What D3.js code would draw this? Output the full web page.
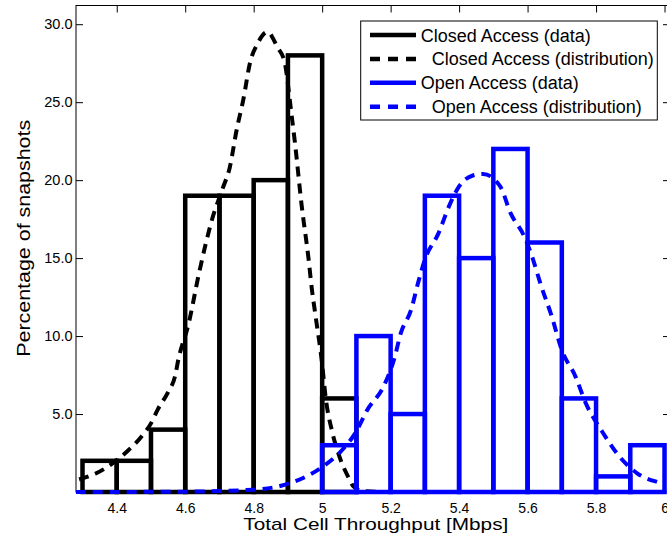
<!DOCTYPE html>
<html>
<head>
<meta charset="utf-8">
<script src="https://cdn.jsdelivr.net/npm/d3@7/dist/d3.min.js"></script>
<style>
  html, body { margin: 0; padding: 0; background: #fff; }
  svg { display: block; }
  text { font-family: "Liberation Sans", Arial, Helvetica, sans-serif; fill: #000; }
</style>
</head>
<body>
<svg id="chart" width="667" height="540"></svg>
<script>
// Histogram bins (lower edge, width 0.1 Mbps) and percentage of snapshots per bin
const binWidth = 0.1;
const closedBinStart = [4.3, 4.4, 4.5, 4.6, 4.7, 4.8, 4.9, 5.0];
const closedPct      = [2,   2,   4,   19,  19,  20,  28,  6];
const openBinStart   = [5.0, 5.1, 5.2, 5.3, 5.4, 5.5, 5.6, 5.7, 5.8, 5.9];
const openPct        = [3,   10,  5,   19,  15,  22,  16,  6,   1,   3];

// Fitted distribution curves (throughput, percentage)
const closedFitX = [4.29, 4.34, 4.43, 4.47, 4.50, 4.52, 4.55, 4.57, 4.58, 4.61, 4.64, 4.68, 4.71, 4.73, 4.75, 4.77, 4.79, 4.81, 4.84, 4.87, 4.89, 4.91, 4.92, 4.94, 4.96, 4.97, 4.98, 5.00, 5.01, 5.03, 5.05, 5.08, 5.09, 5.12, 5.20, 6.00];
const closedFitY = [0.8,  1.2,  2.6,  3.5,  4.4,  5.3,  6.4,  7.4,  8.5,  10.8, 14.0, 17.6, 19.5, 20.8, 23.2, 25.2, 27.6, 28.7, 29.5, 28.5, 27.6, 24.3, 22.5, 18.4, 15.0, 13.0, 11.4, 8.2,  6.1,  3.8,  2.3,  0.8,  0.4,  0.05, 0.0,  0.0];
const openFitX = [4.28, 4.60, 4.80, 4.88, 5.00, 5.05, 5.10, 5.13, 5.18, 5.21, 5.23, 5.26, 5.28, 5.30, 5.34, 5.37, 5.40, 5.44, 5.47, 5.52, 5.55, 5.59, 5.61, 5.64, 5.67, 5.70, 5.74, 5.77, 5.82, 5.86, 5.92, 5.985, 6.00];
const openFitY = [0.0,  0.02, 0.15, 0.4,  1.6,  2.5,  3.9,  5.2,  6.8,  8.5,  10.2, 11.7, 13.4, 14.9, 16.6, 18.3, 19.6, 20.3, 20.4, 19.6, 17.9, 16.4, 15.3, 13.2, 11.3, 9.1,  7.4,  5.7,  3.8,  2.5,  1.2,  0.6,   0.5];

// Axis ticks
const xTicks = [4.4, 4.6, 4.8, 5.0, 5.2, 5.4, 5.6, 5.8, 6.0];
const yTicks = [5, 10, 15, 20, 25, 30];

// Legend entries
const legendItems = [
  { label: "Closed Access (data)",          color: "#000000", dashed: false },
  { label: "Closed Access (distribution)",  color: "#000000", dashed: true  },
  { label: "Open Access (data)",            color: "#0000ff", dashed: false },
  { label: "Open Access (distribution)",    color: "#0000ff", dashed: true  }
];

const svg = d3.select("#chart");
const plot = { left: 76, right: 670, top: 5.5, bottom: 492 };

const x = d3.scaleLinear().domain([4.281, 6.016]).range([plot.left, plot.right]);
const y = d3.scaleLinear().domain([0, 31.2]).range([plot.bottom, plot.top]);

svg.append("defs").append("clipPath").attr("id", "plotClip")
  .append("rect")
  .attr("x", plot.left).attr("y", plot.top - 3)
  .attr("width", plot.right - plot.left).attr("height", plot.bottom - plot.top + 6);

// Axes box
svg.append("rect")
  .attr("x", plot.left).attr("y", plot.top)
  .attr("width", plot.right - plot.left).attr("height", plot.bottom - plot.top)
  .attr("fill", "none").attr("stroke", "#000").attr("stroke-width", 1);

const tickLen = 7;
function styleAxis(g) {
  g.select(".domain").remove();
  g.selectAll(".tick line").attr("stroke", "#000").attr("stroke-width", 1);
}

// Bottom axis with labels
svg.append("g")
  .attr("transform", `translate(0,${plot.bottom})`)
  .call(d3.axisBottom(x).tickValues(xTicks).tickFormat(d3.format("")).tickSize(-tickLen).tickPadding(11))
  .call(styleAxis)
  .call(g => g.selectAll("text").attr("font-size", 14).attr("font-family", null).attr("fill", "#000"));

// Top axis (ticks only)
svg.append("g")
  .attr("transform", `translate(0,${plot.top})`)
  .call(d3.axisTop(x).tickValues(xTicks).tickFormat("").tickSize(-tickLen))
  .call(styleAxis);

// Left axis with labels
svg.append("g")
  .attr("transform", `translate(${plot.left},0)`)
  .call(d3.axisLeft(y).tickValues(yTicks).tickFormat(d3.format(".1f")).tickSize(-tickLen).tickPadding(3.5))
  .call(styleAxis)
  .call(g => g.selectAll("text").attr("font-size", 14.5).attr("font-family", null).attr("fill", "#000"));

// Right axis (ticks only)
svg.append("g")
  .attr("transform", `translate(${plot.right},0)`)
  .call(d3.axisRight(y).tickValues(yTicks).tickFormat("").tickSize(-tickLen))
  .call(styleAxis);

const layer = svg.append("g").attr("clip-path", "url(#plotClip)");

function drawBars(starts, values, color) {
  layer.append("g")
    .selectAll("rect")
    .data(starts.map((s, i) => ({ s, v: values[i] })))
    .join("rect")
    .attr("x", d => x(d.s))
    .attr("y", d => y(d.v))
    .attr("width", d => x(d.s + binWidth) - x(d.s))
    .attr("height", d => y(0) - y(d.v))
    .attr("fill", "none")
    .attr("stroke", color)
    .attr("stroke-width", 4.5)
    .attr("stroke-linejoin", "miter");
}

const fitLine = d3.line()
  .x(d => x(d[0]))
  .y(d => y(d[1]))
  .curve(d3.curveMonotoneX);

function drawFit(xs, ys, color) {
  layer.append("path")
    .datum(xs.map((v, i) => [v, ys[i]]))
    .attr("d", fitLine)
    .attr("fill", "none")
    .attr("stroke", color)
    .attr("stroke-width", 4)
    .attr("stroke-dasharray", "10,7");
}

drawBars(closedBinStart, closedPct, "#000000");
drawFit(closedFitX, closedFitY, "#000000");
drawBars(openBinStart, openPct, "#0000ff");
drawFit(openFitX, openFitY, "#0000ff");

// Axis titles
svg.append("text")
  .attr("x", 375.8).attr("y", 530)
  .attr("text-anchor", "middle")
  .attr("font-size", 17)
  .attr("textLength", 265).attr("lengthAdjust", "spacingAndGlyphs")
  .text("Total Cell Throughput [Mbps]");

svg.append("text")
  .attr("transform", "translate(30,238.3) rotate(-90)")
  .attr("text-anchor", "middle")
  .attr("font-size", 18)
  .attr("textLength", 237).attr("lengthAdjust", "spacingAndGlyphs")
  .text("Percentage of snapshots");

// Legend
const legend = svg.append("g");
legend.append("rect")
  .attr("x", 360.7).attr("y", 21)
  .attr("width", 296.6).attr("height", 99)
  .attr("fill", "#fff").attr("stroke", "#000").attr("stroke-width", 1);

const rowY = i => 35 + i * 23.9;
legendItems.forEach((item, i) => {
  legend.append("line")
    .attr("x1", 370).attr("x2", 416)
    .attr("y1", rowY(i)).attr("y2", rowY(i))
    .attr("stroke", item.color)
    .attr("stroke-width", 4.5)
    .attr("stroke-dasharray", item.dashed ? "10,8" : null);
  legend.append("text")
    .attr("x", item.dashed ? 431.7 : 420.7)
    .attr("y", rowY(i) + 6.5)
    .attr("font-size", 18)
    .text(item.label);
});
</script>
</body>
</html>
